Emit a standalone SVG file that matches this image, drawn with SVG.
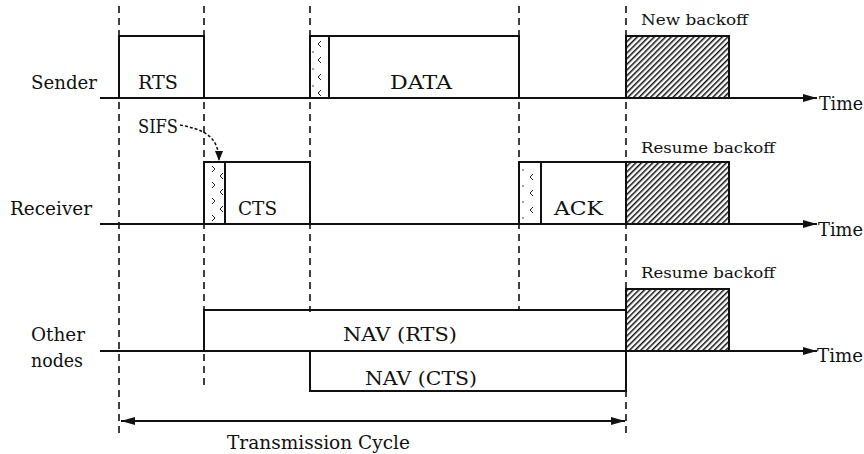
<svg xmlns="http://www.w3.org/2000/svg" width="864" height="454" viewBox="0 0 864 454">
<style>
text{font-family:'DejaVu Serif','Liberation Serif',serif;fill:#111}
.lbl{font-size:18px}
.sm{font-size:14.5px}
.ax{stroke:#111;stroke-width:2;fill:none}
.box{stroke:#111;stroke-width:2;fill:#fff}
.dash{stroke:#111;stroke-width:1.6;stroke-dasharray:7 5;fill:none}
.hatch{fill:url(#hatch);stroke:#111;stroke-width:2}
.sifs{fill:#fff;stroke:#111;stroke-width:2}
.chev{stroke:#222;stroke-width:1;fill:none}
.dot{fill:#333}
</style>
<defs>
<pattern id="hatch" width="4" height="4" patternUnits="userSpaceOnUse" patternTransform="rotate(45)">
<rect width="4" height="4" fill="#fff"/>
<line x1="0.75" y1="0" x2="0.75" y2="4" stroke="#111" stroke-width="1.5"/>
</pattern>
<marker id="ah" markerWidth="14" markerHeight="8" refX="14" refY="4" orient="auto" markerUnits="userSpaceOnUse">
<path d="M0,0 L14,4 L0,8 Z" fill="#111"/>
</marker>
<marker id="ahs" markerWidth="14" markerHeight="8" refX="14" refY="4" orient="auto-start-reverse" markerUnits="userSpaceOnUse">
<path d="M0,0 L14,4 L0,8 Z" fill="#111"/>
</marker>
<marker id="ahc" markerWidth="10" markerHeight="8" refX="10" refY="4" orient="auto" markerUnits="userSpaceOnUse">
<path d="M0,0 L10,4 L0,8 Z" fill="#111"/>
</marker>
<path id="lt" d="M3,-3 L0,0 L3,3" class="chev"/>
<path id="gt" d="M0,-3 L3,0 L0,3" class="chev"/>
</defs>

<g id="sender">
<text class="lbl" x="31" y="89" textLength="66" lengthAdjust="spacingAndGlyphs">Sender</text>
<g id="rts">
<rect class="box" x="119" y="36" width="85" height="62"/>
<text class="lbl" x="138" y="89" textLength="40" lengthAdjust="spacingAndGlyphs">RTS</text>
</g>
<g id="data">
<rect class="box" x="310" y="36" width="209" height="62"/>
<rect class="sifs" x="310" y="36" width="19" height="62"/>
<use href="#lt" x="318" y="44"/><use href="#lt" x="318" y="60"/><use href="#lt" x="318" y="77"/><use href="#lt" x="318" y="93"/>
<circle class="dot" cx="313" cy="52" r="0.8"/><circle class="dot" cx="313" cy="69" r="0.8"/><circle class="dot" cx="313" cy="86" r="0.8"/>
<text class="lbl" x="390" y="89" textLength="62" lengthAdjust="spacingAndGlyphs">DATA</text>
</g>
<g id="new-backoff">
<rect class="hatch" x="626" y="36" width="103" height="62"/>
<text class="sm" x="641" y="25" textLength="107" lengthAdjust="spacingAndGlyphs">New backoff</text>
</g>
<text class="lbl" x="819" y="110" textLength="44" lengthAdjust="spacingAndGlyphs">Time</text>
</g>

<g id="receiver">
<text class="lbl" x="10" y="215" textLength="82" lengthAdjust="spacingAndGlyphs">Receiver</text>
<g id="cts">
<rect class="box" x="204" y="162" width="106" height="62"/>
<rect class="sifs" x="204" y="162" width="21" height="62"/>
<use href="#gt" x="212" y="169"/><use href="#gt" x="212" y="185"/><use href="#gt" x="212" y="201"/><use href="#gt" x="212" y="218"/>
<use href="#lt" x="220" y="176"/><use href="#lt" x="220" y="192"/><use href="#lt" x="220" y="209"/>
<text class="lbl" x="238" y="215" textLength="39" lengthAdjust="spacingAndGlyphs">CTS</text>
</g>
<g id="ack">
<rect class="box" x="519" y="162" width="107" height="62"/>
<rect class="sifs" x="519" y="162" width="22" height="62"/>
<use href="#lt" x="530" y="177"/><use href="#lt" x="530" y="193"/><use href="#lt" x="530" y="210"/>
<circle class="dot" cx="523" cy="170" r="0.8"/><circle class="dot" cx="523" cy="186" r="0.8"/><circle class="dot" cx="523" cy="202" r="0.8"/><circle class="dot" cx="523" cy="218" r="0.8"/>
<text class="lbl" x="554" y="215" textLength="49" lengthAdjust="spacingAndGlyphs">ACK</text>
</g>
<g id="resume-backoff-receiver">
<rect class="hatch" x="626" y="162" width="103" height="62"/>
<text class="sm" x="641" y="153" textLength="134" lengthAdjust="spacingAndGlyphs">Resume backoff</text>
</g>
<text class="lbl" x="818" y="236" textLength="45" lengthAdjust="spacingAndGlyphs">Time</text>
</g>

<g id="other-nodes">
<text class="lbl" x="31" y="341" textLength="54" lengthAdjust="spacingAndGlyphs">Other</text>
<text class="lbl" x="31" y="367" textLength="52" lengthAdjust="spacingAndGlyphs">nodes</text>
<g id="nav-rts">
<rect class="box" x="204" y="310" width="422" height="41"/>
<text class="lbl" x="343" y="341" textLength="114" lengthAdjust="spacingAndGlyphs">NAV (RTS)</text>
</g>
<g id="nav-cts">
<rect class="box" x="310" y="351" width="316" height="40"/>
<text class="lbl" x="365" y="385" textLength="112" lengthAdjust="spacingAndGlyphs">NAV (CTS)</text>
</g>
<g id="resume-backoff-other">
<rect class="hatch" x="626" y="289" width="103" height="62"/>
<text class="sm" x="641" y="278" textLength="134" lengthAdjust="spacingAndGlyphs">Resume backoff</text>
</g>
<text class="lbl" x="817" y="362" textLength="46" lengthAdjust="spacingAndGlyphs">Time</text>
</g>

<g id="sifs-label">
<text class="lbl" x="138" y="133" textLength="40" lengthAdjust="spacingAndGlyphs">SIFS</text>
</g>

<g id="connectors">
<line class="dash" x1="119" y1="6" x2="119" y2="438"/>
<line class="dash" x1="204" y1="6" x2="204" y2="386"/>
<line class="dash" x1="310" y1="6" x2="310" y2="312"/>
<line class="dash" x1="519" y1="6" x2="519" y2="310"/>
<line class="dash" x1="626" y1="6" x2="626" y2="438"/>
<line class="ax" x1="100" y1="98" x2="817" y2="98" marker-end="url(#ah)"/>
<line class="ax" x1="100" y1="224" x2="817" y2="224" marker-end="url(#ah)"/>
<line class="ax" x1="100" y1="351" x2="817" y2="351" marker-end="url(#ah)"/>
<path d="M180,125 C200,129 219,134 219,161" fill="none" stroke="#111" stroke-width="1.5" stroke-dasharray="3 2" marker-end="url(#ahc)"/>
<line class="ax" x1="121" y1="421" x2="625" y2="421" marker-start="url(#ahs)" marker-end="url(#ah)"/>
<text class="lbl" x="227" y="449" textLength="183" lengthAdjust="spacingAndGlyphs">Transmission Cycle</text>
</g>
</svg>
